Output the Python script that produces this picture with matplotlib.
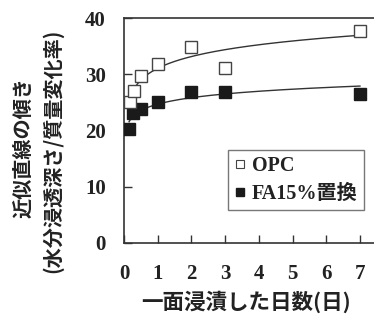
import numpy as np
import matplotlib
matplotlib.use("Agg")
import matplotlib.pyplot as plt
from matplotlib.lines import Line2D

plt.rcParams['font.family'] = ['Liberation Serif', 'Noto Sans CJK JP']

# immersion days and slope of the fitted line
days_opc = [0.17, 0.29, 0.5, 1, 2, 3, 7]
slope_opc = [25.1, 27.1, 29.7, 31.9, 34.8, 31.2, 37.7]
days_fa = [0.15, 0.28, 0.5, 1, 2, 3, 7]
slope_fa = [20.3, 23.1, 23.8, 25.1, 26.9, 26.9, 26.5]

series_names = ['OPC', 'FA15%置換']
x_ticks = [0, 1, 2, 3, 4, 5, 6, 7]
y_ticks = [0, 10, 20, 30, 40]


def log_trend(x, y):
    # logarithmic trend line y = a + b ln(x)
    b, a = np.polyfit(np.log(x), y, 1)
    xs = np.linspace(min(x), max(x), 200)
    return xs, a + b * np.log(xs)


fig = plt.figure(figsize=(3.74, 3.24), dpi=100)
px = 33.71 / 374
ax = fig.add_axes([124 / 374, 81 / 324, 7.5 * px, 225 / 324])

for x, y in [(days_opc, slope_opc), (days_fa, slope_fa)]:
    xs, ys = log_trend(x, y)
    ax.plot(xs, ys, color='#333333', lw=1.0, zorder=2)

ax.plot(days_fa, slope_fa, 's', ms=8.6, mfc='#1a1a1a', mec='#1a1a1a',
        ls='none', zorder=3)
ax.plot(days_opc, slope_opc, 's', ms=8.6, mfc='white', mec='#444444',
        mew=1.0, ls='none', zorder=4)

ax.set_xlim(0, 7.5)
ax.set_ylim(0, 40)
ax.set_xticks(x_ticks)
ax.set_yticks(y_ticks)
ax.tick_params(direction='in', length=6, width=1, color='#333333',
               labelsize=15, pad=15, labelcolor='#222222')
ax.tick_params(axis='y', pad=13)
for lab in ax.get_xticklabels() + ax.get_yticklabels():
    lab.set_fontweight('bold')
for side in ['left', 'bottom', 'top']:
    ax.spines[side].set_linewidth(1.2)
    ax.spines[side].set_color('#333333')
ax.spines['right'].set_visible(False)

handles = [
    Line2D([], [], marker='s', ms=6, mfc='white', mec='#444444', mew=0.8, ls='none'),
    Line2D([], [], marker='s', ms=6, mfc='#1a1a1a', mec='#1a1a1a', ls='none'),
]
leg = ax.legend(handles, series_names, loc='upper left',
                bbox_to_anchor=(228 / 374, 1 - 150 / 324),
                bbox_transform=fig.transFigure, frameon=True, fancybox=False,
                fontsize=14.5, handlelength=0.6, handletextpad=0.3,
                borderpad=0.3, labelspacing=0.4, borderaxespad=0)
leg.get_frame().set_edgecolor('#555555')
leg.get_frame().set_linewidth(1.0)
for t in leg.get_texts():
    t.set_color('#222222')
    t.set_fontweight('bold')

fig.text(23 / 374, 1 - 148 / 324, '近似直線の傾き', rotation=90,
         ha='center', va='center', fontsize=14.5, color='#222222',
         family=['Noto Sans CJK JP'], fontweight='bold')
fig.text(52 / 374, 1 - 151 / 324, '(水分浸透深さ/質量変化率)', rotation=90,
         ha='center', va='center', fontsize=14.5, color='#222222',
         family=['Noto Sans CJK JP'], fontweight='bold')
fig.text(246 / 374, 1 - 302 / 324, '一面浸漬した日数(日)',
         ha='center', va='center', fontsize=15.5, color='#222222',
         family=['Noto Sans CJK JP'], fontweight='bold')

fig.savefig('out.png', dpi=100)
